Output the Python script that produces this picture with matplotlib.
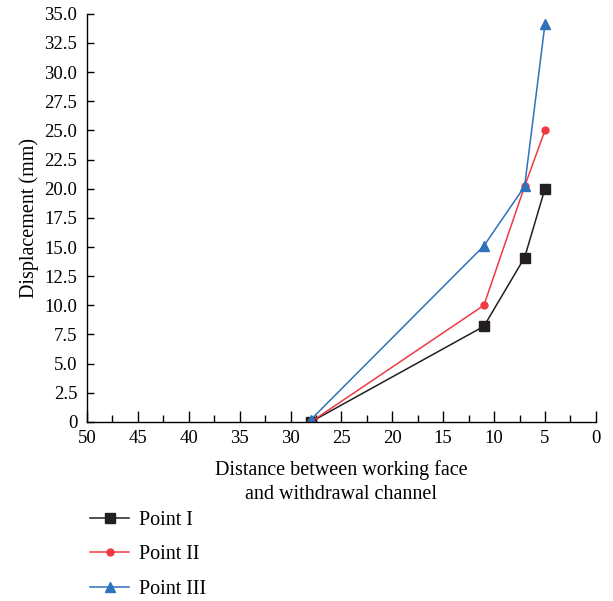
import matplotlib.pyplot as plt
from matplotlib.ticker import MultipleLocator, FuncFormatter

plt.rcParams['font.family'] = ['Liberation Serif', 'DejaVu Serif']

# distance from working face to withdrawal channel (m) and displacement (mm)
distance = [28, 11, 7, 5]
point_1 = [0.0, 8.2, 14.1, 20.0]
point_2 = [0.0, 10.0, 20.2, 25.0]
point_3 = [0.2, 15.1, 20.2, 34.1]

series = [
    ("Point I", point_1, "#231f20", "s", 7),
    ("Point II", point_2, "#ee3b43", "o", 5),
    ("Point III", point_3, "#2e72bb", "^", 7),
]

fig = plt.figure(figsize=(6.13, 6.01), dpi=100)
ax = fig.add_axes([0.142, 0.298, 0.830, 0.679])

for label, vals, color, marker, ms in series:
    ax.plot(distance, vals, color=color, marker=marker, markersize=ms,
            linewidth=1.1, label=label)

ax.set_xlim(50, 0)
ax.set_ylim(0, 35)
ax.xaxis.set_major_locator(MultipleLocator(5))
ax.xaxis.set_minor_locator(MultipleLocator(2.5))
ax.yaxis.set_major_locator(MultipleLocator(2.5))
ax.yaxis.set_major_formatter(FuncFormatter(lambda v, p: "0" if v == 0 else f"{v:.1f}"))

for s in ("top", "right"):
    ax.spines[s].set_visible(False)
ax.spines["left"].set_linewidth(1.0)
ax.spines["bottom"].set_linewidth(1.0)

ax.tick_params(axis="both", which="both", direction="in", labelsize=13.5, width=1.0)
ax.tick_params(axis="x", which="major", length=8, pad=6)
ax.tick_params(axis="x", which="minor", length=5)
ax.tick_params(axis="y", which="major", length=5, pad=7)

ax.set_xlabel("Distance between working face\nand withdrawal channel", fontsize=14.5,
              labelpad=9, linespacing=1.35)
ax.set_ylabel("Displacement (mm)", fontsize=14.5, labelpad=4)

fig.legend(loc="upper left", bbox_to_anchor=(0.118, 0.18), frameon=False,
           fontsize=14.5, handlelength=1.9, labelspacing=0.76, handletextpad=0.5)

fig.savefig("out.png", dpi=100)
